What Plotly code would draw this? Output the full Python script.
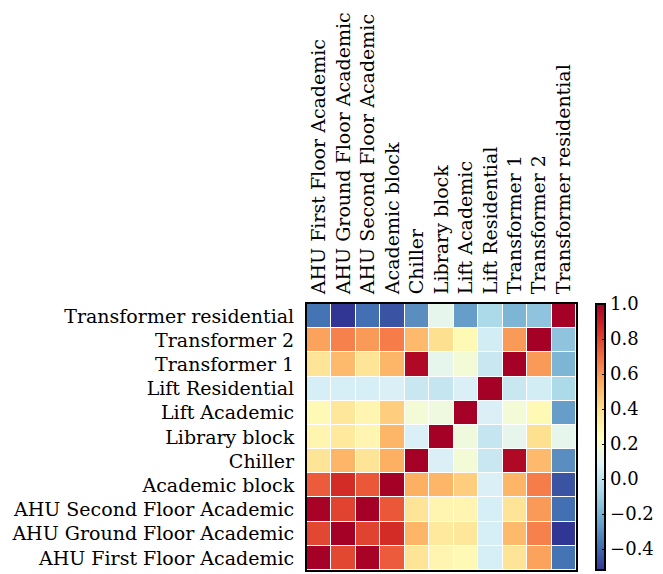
import plotly.graph_objects as go

labels = ["AHU First Floor Academic", "AHU Ground Floor Academic", "AHU Second Floor Academic",
          "Academic block", "Chiller", "Library block", "Lift Academic", "Lift Residential",
          "Transformer 1", "Transformer 2", "Transformer residential"]

corr = [
    [1.00, 0.79, 0.99, 0.74, 0.37, 0.29, 0.27, 0.06, 0.37, 0.57, -0.37],
    [0.79, 1.00, 0.80, 0.86, 0.52, 0.35, 0.36, 0.06, 0.51, 0.65, -0.52],
    [0.99, 0.80, 1.00, 0.75, 0.37, 0.29, 0.29, 0.06, 0.37, 0.59, -0.38],
    [0.74, 0.86, 0.75, 1.00, 0.54, 0.52, 0.45, 0.07, 0.52, 0.66, -0.45],
    [0.37, 0.52, 0.37, 0.54, 1.00, 0.07, 0.18, 0.02, 0.97, 0.51, -0.30],
    [0.29, 0.35, 0.29, 0.52, 0.07, 1.00, 0.16, 0.01, 0.12, 0.39, 0.12],
    [0.27, 0.36, 0.29, 0.45, 0.18, 0.16, 1.00, 0.07, 0.18, 0.27, -0.26],
    [0.06, 0.06, 0.06, 0.07, 0.02, 0.01, 0.07, 1.00, 0.02, 0.05, -0.06],
    [0.37, 0.51, 0.37, 0.52, 0.97, 0.12, 0.18, 0.02, 1.00, 0.59, -0.19],
    [0.57, 0.65, 0.59, 0.66, 0.51, 0.39, 0.27, 0.05, 0.59, 1.00, -0.14],
    [-0.37, -0.52, -0.38, -0.45, -0.30, 0.12, -0.26, -0.06, -0.19, -0.14, 1.00],
]

cbar_ticks = [1.0, 0.8, 0.6, 0.4, 0.2, 0.0, -0.2, -0.4]

rdylbu_r = ['rgb(49,54,149)', 'rgb(69,117,180)', 'rgb(116,173,209)', 'rgb(171,217,233)',
            'rgb(224,243,248)', 'rgb(255,255,191)', 'rgb(254,224,144)', 'rgb(253,174,97)',
            'rgb(244,109,67)', 'rgb(215,48,39)', 'rgb(165,0,38)']
cscale = [[i / 10, c] for i, c in enumerate(rdylbu_r)]

FONT = "DejaVu Serif"
FS = 19

fig = go.Figure(go.Heatmap(
    z=corr, x=labels, y=labels,
    colorscale=cscale, zmin=-0.52, zmax=1.0,
    xgap=1, ygap=1,
    colorbar=dict(
        thickness=9, len=1.0, lenmode="fraction", y=0.5, yanchor="middle",
        x=1.074, xanchor="left", xpad=0, ypad=0,
        outlinecolor="black", outlinewidth=2,
        tickvals=cbar_ticks, tickformat=".1f",
        ticks="inside", ticklen=4, tickcolor="black",
        tickfont=dict(family=FONT, size=18, color="black"),
    ),
))

fig.update_layout(
    width=655, height=566,
    margin=dict(l=299, r=87, t=296, b=2),
    plot_bgcolor="white", paper_bgcolor="white",
    font=dict(family=FONT, size=FS, color="black"),
    xaxis=dict(side="top", tickangle=-90, showgrid=False, zeroline=False,
               showline=True, linecolor="black", linewidth=2, mirror=True,
               ticks="", tickfont=dict(family=FONT, size=FS), ticklabelstandoff=4),
    yaxis=dict(showgrid=False, zeroline=False,
               showline=True, linecolor="black", linewidth=2, mirror=True,
               ticks="", tickfont=dict(family=FONT, size=FS), ticklabelstandoff=7),
)

fig.write_html("out.html")
